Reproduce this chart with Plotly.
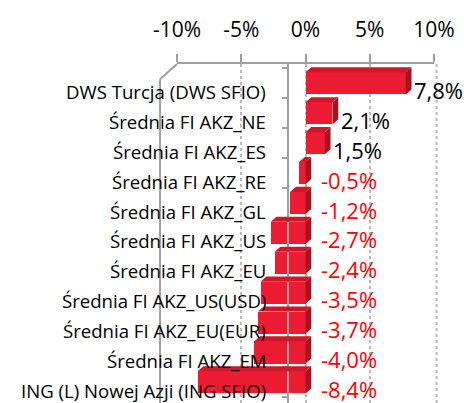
import plotly.graph_objects as go

categories = [
    "DWS Turcja (DWS SFIO)",
    "Średnia FI AKZ_NE",
    "Średnia FI AKZ_ES",
    "Średnia FI AKZ_RE",
    "Średnia FI AKZ_GL",
    "Średnia FI AKZ_US",
    "Średnia FI AKZ_EU",
    "Średnia FI AKZ_US(USD)",
    "Średnia FI AKZ_EU(EUR)",
    "Średnia FI AKZ_EM",
    "ING (L) Nowej Azji (ING SFIO)",
]
values = [7.8, 2.1, 1.5, -0.5, -1.2, -2.7, -2.4, -3.5, -3.7, -4.0, -8.4]
tick_vals = [-10, -5, 0, 5, 10]
tick_text = ["-10%", "-5%", "0%", "5%", "10%"]

FONT = "Open Sans"
RED_FRONT = "#EC1C33"
RED_SIDE = "#A8121F"
RED_TOP = "#D01628"

idx = list(range(len(categories)))
bar_shift = 0.27      # bars sit slightly above the label line (3D look)
bar_w = 0.74
dx, dy = 0.45, 0.17   # 3D depth offsets in data units

bar_y = [i - bar_shift for i in idx]

fig = go.Figure()
fig.add_trace(go.Bar(
    x=values, y=bar_y, orientation="h", width=bar_w,
    marker=dict(color=RED_FRONT, line=dict(width=0)),
    hoverinfo="skip", showlegend=False,
))

shapes = []
for v, yc in zip(values, bar_y):
    xl, xr = min(v, 0), max(v, 0)
    yt, yb = yc - bar_w / 2, yc + bar_w / 2
    shapes.append(dict(type="path", xref="x", yref="y",
                       path=f"M {xr},{yt} L {xr+dx},{yt-dy} L {xr+dx},{yb-dy} L {xr},{yb} Z",
                       fillcolor=RED_SIDE, line=dict(width=0), layer="above"))
    shapes.append(dict(type="path", xref="x", yref="y",
                       path=f"M {xl},{yt} L {xl+dx},{yt-dy} L {xr+dx},{yt-dy} L {xr},{yt} Z",
                       fillcolor=RED_TOP, line=dict(width=0), layer="above"))

gray = "#A0A0A0"
shapes.append(dict(type="line", xref="paper", yref="paper", x0=-0.066, x1=-0.066, y0=0.0, y1=0.955,
                   line=dict(color=gray, width=2)))
shapes.append(dict(type="line", xref="paper", yref="paper", x0=-0.066, x1=0.0, y0=0.955, y1=1.0,
                   line=dict(color=gray, width=2)))
shapes.append(dict(type="line", xref="paper", yref="paper", x0=1.01, x1=1.01, y0=0.0, y1=1.0,
                   line=dict(color="#B8B8B8", width=2, dash="dot")))

annotations = []
for i, (c, v) in enumerate(zip(categories, values)):
    annotations.append(dict(x=-2.9, y=i, xref="x", yref="y", text=c, showarrow=False,
                            xanchor="right", yanchor="middle",
                            font=dict(family=FONT, size=18.6, color="black")))
    lab = f"{v:.1f}".replace(".", ",") + "%"
    if v >= 0:
        annotations.append(dict(x=v + 0.5, y=i - 0.05, xref="x", yref="y", text=lab, showarrow=False,
                                xanchor="left", yanchor="middle",
                                font=dict(family=FONT, size=22, color="black")))
    else:
        annotations.append(dict(x=1.05, y=i - 0.05, xref="x", yref="y", text=lab, showarrow=False,
                                xanchor="left", yanchor="middle",
                                font=dict(family=FONT, size=22, color="#FF0000")))

fig.update_layout(
    width=464, height=403,
    margin=dict(l=177, r=30, t=64, b=0),
    paper_bgcolor="white", plot_bgcolor="white",
    shapes=shapes, annotations=annotations,
    xaxis=dict(
        side="top", range=[-10, 10], tickvals=tick_vals, ticktext=tick_text,
        tickfont=dict(family=FONT, size=21, color="black"),
        ticks="outside", ticklen=8, tickwidth=2, tickcolor=gray,
        showline=True, linecolor=gray, linewidth=2,
        showgrid=True, gridcolor="#B8B8B8", gridwidth=2, griddash="dot",
        zeroline=False, ticklabelstandoff=9, fixedrange=True,
    ),
    yaxis=dict(
        range=[10.42, -0.92], showticklabels=False,
        tickvals=[i - bar_shift - 0.5 for i in idx] + [len(idx) - bar_shift - 0.5],
        ticks="outside", ticklen=5, tickwidth=2, tickcolor=gray,
        showline=True, linecolor=gray, linewidth=2,
        anchor="free", position=0.43,
        showgrid=False, zeroline=False, fixedrange=True,
    ),
    bargap=0,
)

fig.write_html("out.html", config={"displayModeBar": False},
               post_script="document.body.style.margin='0';document.body.style.overflow='hidden';")
